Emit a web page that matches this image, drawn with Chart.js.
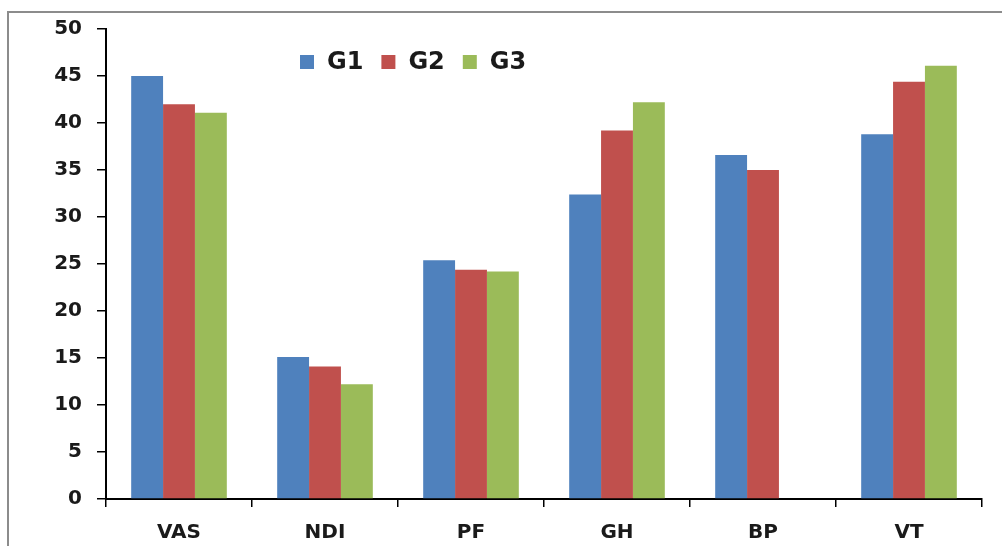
<!DOCTYPE html>
<html>
<head>
<meta charset="utf-8">
<script src="https://cdn.jsdelivr.net/npm/chart.js@4.4.1/dist/chart.umd.min.js"></script>
<style>
  html, body { margin: 0; padding: 0; background: #fff; }
  #wrap { width: 1002px; height: 546px; position: relative; }
</style>
</head>
<body>
<div id="wrap"><canvas id="myChart" width="1002" height="546"></canvas></div>
<script>
// Datos
const categories = ['VAS', 'NDI', 'PF', 'GH', 'BP', 'VT'];
const seriesNames = ['G1', 'G2', 'G3'];
const g1Values = [45, 15.1, 25.4, 32.4, 36.6, 38.8];
const g2Values = [42, 14.1, 24.4, 39.2, 35.0, 44.4];
const g3Values = [41.1, 12.2, 24.2, 42.2, null, 46.1];
const yTicks = [0, 5, 10, 15, 20, 25, 30, 35, 40, 45, 50];

const colors = ['#4F81BD', '#C0504D', '#9BBB59'];
const FONT = 'DejaVu Sans';

// Marco gris (solo arriba e izquierda, la imagen está recortada)
const framePlugin = {
    id: 'frame',
    beforeDraw(chart) {
        const ctx = chart.ctx;
        ctx.save();
        ctx.fillStyle = '#fff';
        ctx.fillRect(0, 0, chart.width, chart.height);
        ctx.strokeStyle = '#8c8c8c';
        ctx.lineWidth = 2;
        ctx.beginPath();
        ctx.moveTo(8, chart.height);
        ctx.lineTo(8, 12);
        ctx.lineTo(chart.width, 12);
        ctx.stroke();
        ctx.restore();
    }
};

// Leyenda superpuesta dentro del área del gráfico
const legendPlugin = {
    id: 'overlayLegend',
    afterDraw(chart) {
        const ctx = chart.ctx;
        ctx.save();
        ctx.font = 'bold 24px "' + FONT + '"';
        ctx.textBaseline = 'middle';
        ctx.textAlign = 'left';
        let x = 300;
        const y = 62;
        chart.data.datasets.forEach(ds => {
            ctx.fillStyle = ds.backgroundColor;
            ctx.fillRect(x, y - 7, 14, 14);
            x += 27;
            ctx.fillStyle = '#1a1a1a';
            ctx.fillText(ds.label, x, y + 1);
            x += ctx.measureText(ds.label).width + 18;
        });
        ctx.restore();
    }
};

const seriesValues = [g1Values, g2Values, g3Values];

const ctx = document.getElementById('myChart').getContext('2d');
new Chart(ctx, {
    type: 'bar',
    data: {
        labels: categories,
        datasets: seriesNames.map((name, i) => ({
            label: name,
            data: seriesValues[i],
            backgroundColor: colors[i],
            borderWidth: 0,
            barPercentage: 1,
            categoryPercentage: 0.655
        }))
    },
    options: {
        responsive: false,
        animation: false,
        layout: { padding: { top: 29, right: 20, left: 0, bottom: 0 } },
        plugins: {
            legend: { display: false },
            tooltip: { enabled: false }
        },
        scales: {
            x: {
                afterFit: (scale) => { scale.height = 47; },
                grid: {
                    offset: true,
                    drawOnChartArea: false,
                    drawTicks: true,
                    tickLength: 8,
                    color: '#000',
                    lineWidth: 1.5
                },
                border: { color: '#000', width: 2 },
                ticks: {
                    color: '#1a1a1a',
                    padding: 14,
                    font: { family: FONT, size: 20, weight: 'bold' }
                }
            },
            y: {
                min: 0,
                max: 50,
                afterFit: (scale) => { scale.width = 106; },
                afterBuildTicks: (scale) => { scale.ticks = yTicks.map(v => ({ value: v })); },
                grid: {
                    drawOnChartArea: false,
                    drawTicks: true,
                    tickLength: 9,
                    color: '#000',
                    lineWidth: 1.5
                },
                border: { color: '#000', width: 2 },
                ticks: {
                    color: '#1a1a1a',
                    padding: 15,
                    font: { family: FONT, size: 20, weight: 'bold' }
                }
            }
        }
    },
    plugins: [framePlugin, legendPlugin]
});
</script>
</body>
</html>
